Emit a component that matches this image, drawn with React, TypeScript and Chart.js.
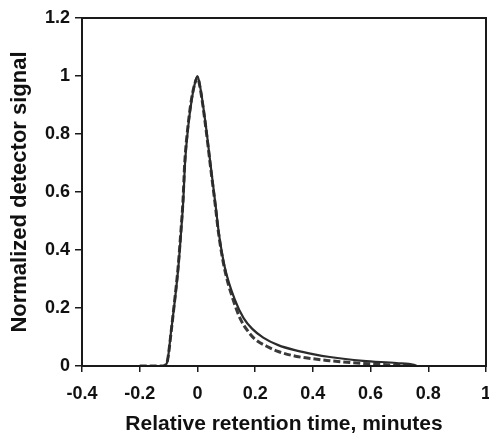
import React, { useEffect, useRef } from "react";
import { Chart, registerables } from "chart.js";

Chart.register(...registerables);

const solidX = [-0.2, -0.12, -0.106, -0.101, -0.092, -0.078, -0.066, -0.057, -0.049, -0.043, -0.032, -0.02, -0.01, 0, 0.01, 0.029, 0.046, 0.064, 0.074, 0.095, 0.13, 0.16, 0.19, 0.228, 0.28, 0.344, 0.4, 0.459, 0.574, 0.69, 0.75, 0.76];
const solidY = [0, 0, 0.01, 0.035, 0.113, 0.228, 0.342, 0.458, 0.572, 0.7, 0.825, 0.917, 0.97, 1.0, 0.96, 0.83, 0.69, 0.545, 0.46, 0.34, 0.228, 0.165, 0.128, 0.098, 0.072, 0.053, 0.041, 0.031, 0.018, 0.01, 0.004, 0];

const dashedX = [-0.2, -0.12, -0.106, -0.101, -0.092, -0.079, -0.067, -0.058, -0.05, -0.044, -0.033, -0.021, -0.01, 0, 0.01, 0.028, 0.045, 0.063, 0.073, 0.093, 0.125, 0.15, 0.175, 0.2, 0.24, 0.28, 0.344, 0.4, 0.459, 0.574, 0.7, 0.75];
const dashedY = [0, 0, 0.01, 0.035, 0.11, 0.225, 0.34, 0.455, 0.57, 0.7, 0.825, 0.917, 0.97, 0.995, 0.955, 0.83, 0.69, 0.545, 0.46, 0.34, 0.225, 0.16, 0.12, 0.092, 0.068, 0.05, 0.033, 0.025, 0.018, 0.009, 0.002, 0];

const xTicks = [-0.4, -0.2, 0, 0.2, 0.4, 0.6, 0.8, 1];
const yTicks = [0, 0.2, 0.4, 0.6, 0.8, 1, 1.2];

const xTitle = "Relative retention time, minutes";
const yTitle = "Normalized detector signal";

const FONT = "'Liberation Sans', Arial, Helvetica, sans-serif";
const AXIS = "#1a1a1a";

export default function App() {
  const ref = useRef<HTMLCanvasElement | null>(null);

  useEffect(() => {
    if (!ref.current) return;
    const frame = {
      id: "frame",
      afterDraw(chart: any) {
        const { ctx, chartArea } = chart;
        ctx.save();
        ctx.strokeStyle = AXIS;
        ctx.lineWidth = 2;
        ctx.strokeRect(chartArea.left, chartArea.top, chartArea.right - chartArea.left, chartArea.bottom - chartArea.top);
        ctx.restore();
      },
    };
    const chart = new Chart(ref.current, {
      type: "line",
      data: {
        datasets: [
          {
            label: "solid",
            data: solidX.map((x, i) => ({ x, y: solidY[i] })),
            borderColor: "#2b2b2b",
            borderWidth: 2.2,
            pointRadius: 0,
            fill: false,
            cubicInterpolationMode: "monotone",
          },
          {
            label: "dashed",
            data: dashedX.map((x, i) => ({ x, y: dashedY[i] })),
            borderColor: "#3a3a3a",
            borderWidth: 3,
            borderDash: [7, 3],
            pointRadius: 0,
            fill: false,
            cubicInterpolationMode: "monotone",
          },
        ],
      },
      options: {
        animation: false,
        responsive: false,
        maintainAspectRatio: false,
        layout: { padding: { top: 18, right: 3, left: 0, bottom: 0 } },
        plugins: { legend: { display: false }, tooltip: { enabled: false } },
        scales: {
          x: {
            type: "linear",
            min: -0.4,
            max: 1,
            afterBuildTicks(scale: any) {
              scale.ticks = xTicks.map((v) => ({ value: v }));
            },
            afterFit(scale: any) {
              scale.height = 71;
              scale.paddingRight = 0;
              scale.paddingLeft = 0;
            },
            ticks: {
              color: "#111",
              font: { family: FONT, size: 18, weight: "bold" },
              padding: 11,
              maxRotation: 0,
              callback: (v: any) => String(Math.round(Number(v) * 10) / 10),
            },
            grid: { display: true, drawOnChartArea: false, drawTicks: true, tickLength: 6, color: AXIS, lineWidth: 1.5 },
            border: { display: true, color: AXIS, width: 2 },
            title: {
              display: true,
              text: xTitle,
              color: "#111",
              font: { family: FONT, size: 21, weight: "bold" },
              padding: { top: 0, bottom: 0 },
            },
          },
          y: {
            type: "linear",
            min: 0,
            max: 1.2,
            afterBuildTicks(scale: any) {
              scale.ticks = yTicks.map((v) => ({ value: v }));
            },
            afterFit(scale: any) {
              scale.width = 82;
              scale.paddingTop = 0;
              scale.paddingBottom = 0;
            },
            ticks: {
              color: "#111",
              font: { family: FONT, size: 18, weight: "bold" },
              padding: 5,
              callback: (v: any) => String(Math.round(Number(v) * 10) / 10),
            },
            grid: { display: true, drawOnChartArea: false, drawTicks: true, tickLength: 7, color: AXIS, lineWidth: 1.5 },
            border: { display: true, color: AXIS, width: 2 },
            title: {
              display: true,
              text: yTitle,
              color: "#111",
              font: { family: FONT, size: 22, weight: "bold" },
              padding: { top: 7, bottom: 0 },
            },
          },
        },
      },
      plugins: [frame],
    });
    return () => chart.destroy();
  }, []);

  return (
    <div style={{ position: "absolute", left: 0, top: 0, width: 489, height: 437, background: "#fff" }}>
      <canvas ref={ref} width={489} height={437} style={{ display: "block", width: 489, height: 437 }} />
    </div>
  );
}
